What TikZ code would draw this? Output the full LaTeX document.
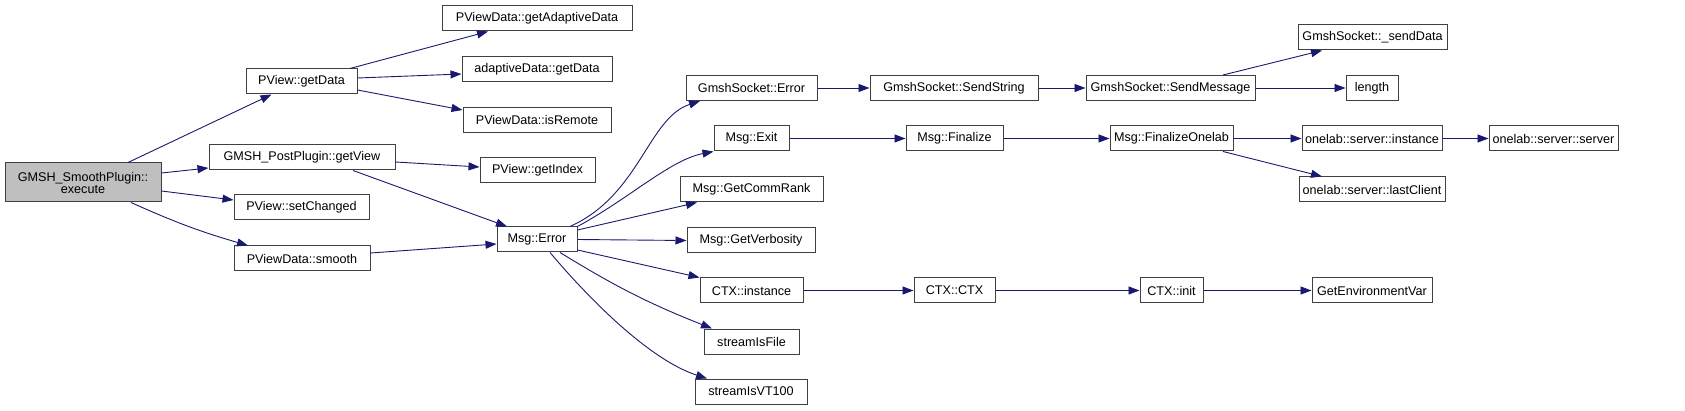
\documentclass[tikz,border=0pt]{standalone}
\usepackage{fontspec}
\setmainfont{Liberation Sans}
\usepackage{tikz}
\usetikzlibrary{arrows.meta}
\definecolor{edgeblue}{RGB}{25,25,112}

\begin{document}
\begin{tikzpicture}[x=1pt, y=-1pt,
    fn/.style={draw=black!75, line width=1pt, fill=white, minimum height=25, inner sep=0pt,
      font=\fontsize{12.6}{14}\selectfont},
    call/.style={draw=edgeblue, line width=0.9pt, -{Triangle[length=11pt, width=8pt]}}]
  \useasboundingbox (0,0) rectangle (1685,411);
  \node[fn, fill=black!25, minimum width=156, minimum height=39, align=center] (execute) at (83,182.5)
    {GMSH\_SmoothPlugin::\\[-2pt]execute};
  \node[fn, minimum width=111] (getdata) at (301.5,81.5) {PView::getData};
  \node[fn, minimum width=186] (getview) at (302,157.5) {GMSH\_PostPlugin::getView};
  \node[fn, minimum width=135] (setchanged) at (301.5,207.5) {PView::setChanged};
  \node[fn, minimum width=136] (smooth) at (302,258.5) {PViewData::smooth};
  \node[fn, minimum width=190] (adaptive) at (537,18.5) {PViewData::getAdaptiveData};
  \node[fn, minimum width=150] (adgetdata) at (537,69.5) {adaptiveData::getData};
  \node[fn, minimum width=148] (isremote) at (537,120) {PViewData::isRemote};
  \node[fn, minimum width=115] (getindex) at (537.5,170.5) {PView::getIndex};
  \node[fn, minimum width=80] (msgerror) at (537,239.5) {Msg::Error};
  \node[fn, minimum width=131] (sockerror) at (751.5,88) {GmshSocket::Error};
  \node[fn, minimum width=75] (msgexit) at (751.5,138.5) {Msg::Exit};
  \node[fn, minimum width=143] (commrank) at (751.5,189.5) {Msg::GetCommRank};
  \node[fn, minimum width=128] (verbosity) at (751,240.5) {Msg::GetVerbosity};
  \node[fn, minimum width=103] (ctxinstance) at (751.5,290.5) {CTX::instance};
  \node[fn, minimum width=95] (isfile) at (751.5,341.5) {streamIsFile};
  \node[fn, minimum width=112] (isvt) at (751,391.5) {streamIsVT100};
  \node[fn, minimum width=168] (sendstring) at (954,88) {GmshSocket::SendString};
  \node[fn, minimum width=97] (finalize) at (954.5,138.5) {Msg::Finalize};
  \node[fn, minimum width=81] (ctxctx) at (954.5,290.5) {CTX::CTX};
  \node[fn, minimum width=169] (sendmessage) at (1170.5,88) {GmshSocket::SendMessage};
  \node[fn, minimum width=123] (finonelab) at (1171.5,138.5) {Msg::FinalizeOnelab};
  \node[fn, minimum width=63] (ctxinit) at (1171.5,290.5) {CTX::init};
  \node[fn, minimum width=149] (senddata) at (1372.5,37.5) {GmshSocket::\_sendData};
  \node[fn, minimum width=52] (length) at (1372,88) {length};
  \node[fn, minimum width=140] (srvinstance) at (1372,138.5) {onelab::server::instance};
  \node[fn, minimum width=146] (lastclient) at (1372,189.5) {onelab::server::lastClient};
  \node[fn, minimum width=120] (getenv) at (1372,290.5) {GetEnvironmentVar};
  \node[fn, minimum width=129] (srvserver) at (1553.5,138.5) {onelab::server::server};

  \draw[call] ([xshift=45pt]execute.north) -- ([xshift=-30pt]getdata.south);
  \draw[call] ([yshift=9.5pt]execute.east) -- ([yshift=-10.5pt]getview.west);
  \draw[call] ([yshift=-8.5pt]execute.east) -- ([yshift=7.5pt]setchanged.west);
  \draw[call] ([xshift=48pt]execute.south) to[bend right=4] ([xshift=-54pt]smooth.north);
  \draw[call] ([xshift=48.5pt]getdata.north) -- ([xshift=-49pt]adaptive.south);
  \draw[call] ([yshift=3.5pt]getdata.east) -- ([yshift=-4.5pt]adgetdata.west);
  \draw[call] ([yshift=-8.5pt]getdata.east) -- ([yshift=10pt]isremote.west);
  \draw[call] ([yshift=-4.5pt]getview.east) -- ([yshift=3.5pt]getindex.west);
  \draw[call] ([xshift=51pt]getview.south) -- ([xshift=-30pt]msgerror.north);
  \draw[call] ([yshift=5.5pt]smooth.east) -- ([yshift=-4.5pt]msgerror.west);
  \draw[call] ([xshift=33pt]msgerror.north) .. controls (640,195) and (648,118) .. ([xshift=-51.5pt]sockerror.south);
  \draw[call] (msgerror.north east) .. controls (630,198) and (670,160) .. (msgexit.south west);
  \draw[call] ([yshift=9.5pt]msgerror.east) -- ([xshift=-54.5pt]commrank.south);
  \draw[call] (msgerror.east) -- (verbosity.west);
  \draw[call] ([yshift=-10.5pt]msgerror.east) -- (ctxinstance.north west);
  \draw[call] ([xshift=23pt]msgerror.south) to[bend right=5] ([xshift=-39.5pt]isfile.north);
  \draw[call] ([xshift=13pt]msgerror.south) .. controls (590,300) and (650,360) .. ([xshift=-44pt]isvt.north);
  \draw[call] (sockerror) -- (sendstring);
  \draw[call] (sendstring) -- (sendmessage);
  \draw[call] ([xshift=52.5pt]sendmessage.north) -- ([xshift=-50.5pt]senddata.south);
  \draw[call] (sendmessage) -- (length);
  \draw[call] (msgexit) -- (finalize);
  \draw[call] (finalize) -- (finonelab);
  \draw[call] (finonelab) -- (srvinstance);
  \draw[call] ([xshift=51.5pt]finonelab.south) -- ([xshift=-50pt]lastclient.north);
  \draw[call] (srvinstance) -- (srvserver);
  \draw[call] (ctxinstance) -- (ctxctx);
  \draw[call] (ctxctx) -- (ctxinit);
  \draw[call] (ctxinit) -- (getenv);
\end{tikzpicture}
\end{document}
